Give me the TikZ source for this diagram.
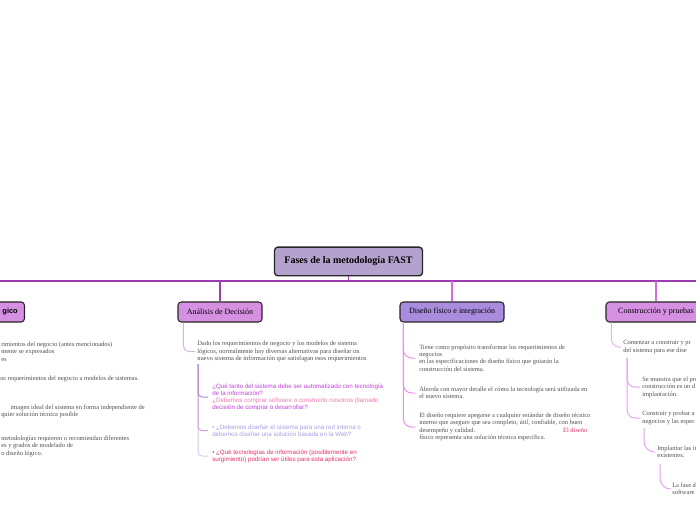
\documentclass[tikz,border=0pt]{standalone}
\usepackage{fontspec}
\setmainfont{Liberation Serif}
\newfontfamily\qsans{Liberation Sans}
\definecolor{busline}{HTML}{9C3CAE}
\definecolor{boxlila}{HTML}{B5A1CE}
\definecolor{boxorchid}{HTML}{D590E2}
\definecolor{boxviolet}{HTML}{A98CDE}
\definecolor{grtext}{HTML}{4F4F4F}
\definecolor{qpurple}{HTML}{BE42DA}
\definecolor{qpink}{HTML}{EE78B6}
\definecolor{qlav}{HTML}{AB9BE2}
\definecolor{qred}{HTML}{E2306F}
\definecolor{anadrop}{HTML}{9A42AA}
\definecolor{disdrop}{HTML}{D76BE1}
\definecolor{condrop}{HTML}{CB72DA}
\definecolor{anasub}{HTML}{D6B5E0}
\definecolor{qdark}{HTML}{B584CC}
\definecolor{qmid}{HTML}{C9A3DA}
\definecolor{qlight}{HTML}{DEC6E8}
\definecolor{dissub}{HTML}{EC8CEC}
\definecolor{consub}{HTML}{E7B3EE}
\definecolor{conleaf}{HTML}{E2A5EC}
\begin{document}
\begin{tikzpicture}[x=0.75pt,y=-0.75pt,
    phase/.style={draw=black!85,line width=0.8pt,rounded corners=2.5pt,
      minimum height=15pt,inner sep=0pt,font=\fontsize{6}{7}\selectfont},
    leaf/.style={anchor=west,align=left,inner sep=0pt,text=grtext,
      font=\fontsize{4.85}{5.6}\selectfont},
    ask/.style={leaf,font=\qsans\fontsize{4.65}{5.3}\selectfont},
    link/.style={line width=0.75pt,rounded corners=4pt}]
\useasboundingbox (0,0) rectangle (696,520);

% raiz y barra
\node[phase,fill=boxlila,line width=1pt,minimum width=111pt,minimum height=21.5pt,
      font=\fontsize{7.5}{8}\selectfont\bfseries] (fases) at (348.5,261.5) {Fases de la metodología FAST};
\coordinate (busL) at (0,281);
\coordinate (busR) at (696,281);
\draw[busline,line width=0.8pt] (busL) -- (busR);
\draw[busline,line width=0.8pt] (fases.south) -- (fases.south |- busL);

% fases
\node[phase,fill=boxorchid,anchor=east,text width=55pt,align=right,inner xsep=5pt,
      font=\qsans\fontsize{5.6}{6.5}\selectfont\bfseries] (logico) at (25,312) {gico};
\node[phase,fill=boxorchid,minimum width=63pt] (analisis) at (220,312) {Análisis de Decisión};
\node[phase,fill=boxviolet,minimum width=78pt] (diseno) at (452,312) {Diseño físico e integración};
\node[phase,fill=boxorchid,minimum width=75pt] (constr) at (656,312) {Construcción y pruebas};
\draw[anadrop,line width=0.8pt] (analisis.north) -- (analisis.north |- busL);
\draw[disdrop,line width=0.8pt] (diseno.north) -- (diseno.north |- busL);
\draw[condrop,line width=0.8pt] (constr.north) -- (constr.north |- busL);

% diseno logico (cortado)
\node[leaf] (logT1) at (1,351.5) {rimientos del negocio (antes mencionados)\\ mente se expresados\\ es};
\node[leaf] (logT2) at (0,379) {os requerimientos del negocio a modelos de sistemas.};
\node[leaf] (logT3) at (1,411.5) {\hspace*{7pt}imagen ideal del sistema en forma independiente de\\ quier solución técnica posible};
\node[leaf] (logT4) at (1,446) {metodologías requieren o recomiendan diferentes\\ es y grados de modelado de\\ o diseño lógico.};

% analisis de decision
\node[leaf] (anaT) at (197,351.5) {Dado los requerimientos de negocio y los modelos de sistema\\ lógicos, normalmente hay diversas alternativas para diseñar un\\ nuevo sistema de información que satisfagan esos requerimientos};
\draw[link,anasub,shorten >=1.5pt] ([xshift=4.5pt]analisis.south west) |- (anaT.west);
\coordinate (qtop) at (198,364);
\node[ask,text=qpurple] (q1) at (212,397) {¿Qué tanto del sistema debe ser automatizado con tecnología\\ de la información?\\ \color{qpink}¿Debemos comprar software o construirlo nosotros (llamado\\ decisión de comprar o desarrollar?};
\node[ask,text=qlav] (q2) at (212,430.5) {• ¿Debemos diseñar el sistema para una red interna o\\ debemos diseñar una solución basada en la Web?};
\node[ask,text=qred] (q3) at (212,456) {• ¿Qué tecnologías de información (posiblemente en\\ surgimiento) podrían ser útiles para esta aplicación?};
\draw[link,qlight,rounded corners=3pt,shorten >=3pt] (qtop) |- (q3.west);
\draw[link,qmid,rounded corners=3pt,shorten >=3pt] (qtop) |- (q2.west);
\draw[link,qdark,rounded corners=3pt,shorten >=3pt] (qtop) |- (q1.west);

% diseno fisico
\node[leaf] (disT1) at (419,358) {Tiene como propósito transformar los requerimientos de\\ negocios\\ en las especificaciones de diseño físico que guiarán la\\ construcción del sistema.};
\node[leaf] (disT2) at (419,393) {Aborda con mayor detalle el cómo la tecnología será utilizada en\\ el nuevo sistema.};
\node[leaf] (disT3) at (419,427) {El diseño requiere apegarse a cualquier estándar de diseño técnico\\ interno que asegure que sea completo, útil, confiable, con buen\\ desempeño y calidad.\hspace{66pt}\color{qred}El diseño\\ físico representa una solución técnica específica.};
\draw[link,dissub,rounded corners=6pt,shorten >=3pt] ([xshift=3pt]diseno.south west) |- (disT3.west);
\draw[link,dissub,rounded corners=6pt,shorten >=3pt] ([xshift=3pt]diseno.south west) |- (disT2.west);
\draw[link,dissub,rounded corners=6pt,shorten >=3pt] ([xshift=3pt]diseno.south west) |- (disT1.west);

% construccion
\node[leaf] (conT) at (623,347) {Comenzar a construir y pr\\ del sistema para ese dise};
\draw[link,consub,rounded corners=6pt,shorten >=1.5pt] ([xshift=4.5pt]constr.south west) |- (conT.west);
\coordinate (c2) at (627,358);
\node[leaf] (muestra) at (642,387) {Se muestra que el pro\\ construcción es un d\\ implantación.};
\node[leaf] (probar) at (642,418) {Construir y probar a\\ negocios y las espec};
\draw[link,conleaf,rounded corners=6pt,shorten >=1.5pt] (c2) |- (probar.west);
\draw[link,conleaf,rounded corners=6pt,shorten >=1.5pt] (c2) |- (muestra.west);
\coordinate (c3) at (644,428);
\node[leaf] (implanta) at (657,452) {Implantar las in\\ existentes.};
\draw[link,conleaf,rounded corners=8pt,shorten >=1.5pt] (c3) |- (implanta.west);
\coordinate (c4) at (660,464);
\node[leaf] (fasefin) at (672,489) {La fase de\\ software};
\draw[link,conleaf,rounded corners=8pt,shorten >=1.5pt] (c4) |- (fasefin.west);
\end{tikzpicture}
\end{document}
